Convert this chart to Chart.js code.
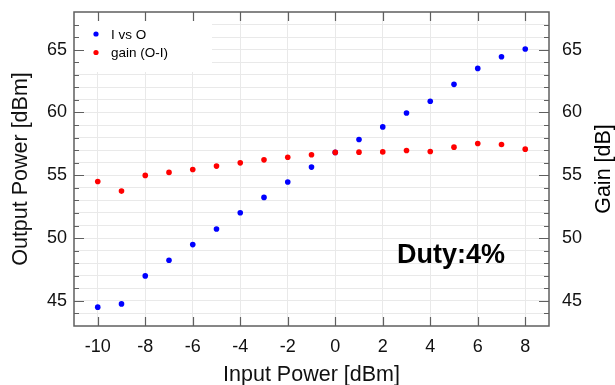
<!DOCTYPE html>
<html>
<head>
<meta charset="utf-8">
<script src="https://cdn.jsdelivr.net/npm/chart.js@4.4.1/dist/chart.umd.min.js"></script>
<style>
  html, body { margin: 0; padding: 0; background: #fff; }
  #wrap { width: 615px; height: 385px; }
</style>
</head>
<body>
<div id="wrap"><canvas id="myChart" width="615" height="385"></canvas></div>
<script>
// chart data
const inputPower = [-10, -9, -8, -7, -6, -5, -4, -3, -2, -1, 0, 1, 2, 3, 4, 5, 6, 7, 8];
const outputPower = [44.50, 44.76, 46.99, 48.23, 49.48, 50.72, 52.02, 53.24, 54.46, 55.65,
                     56.82, 57.85, 58.85, 59.96, 60.89, 62.24, 63.51, 64.44, 65.05];
const gain = [54.51, 53.74, 54.99, 55.23, 55.46, 55.73, 55.99, 56.23, 56.44, 56.63,
              56.82, 56.84, 56.86, 56.97, 56.89, 57.24, 57.53, 57.45, 57.08];
const xTickLabels = [-10, -8, -6, -4, -2, 0, 2, 4, 6, 8];
const yTickLabels = [45, 50, 55, 60, 65];
const seriesNames = ['I vs O', 'gain (O-I)'];
const seriesColors = ['#0000ff', '#ff0000'];

const X_MIN = -11, X_MAX = 9, Y_MIN = 43, Y_MAX = 68;
const FONT = "'Liberation Sans', Arial, sans-serif";
const FRAME = '#5f5f5f';
const GRID = '#e9e9e9';

function toPoints(ys) {
    return inputPower.map((x, i) => ({ x: x, y: ys[i] }));
}

// every integer between min and max gets a grid line on y
function yGridValues() {
    const v = [];
    for (let y = Y_MIN + 1; y < Y_MAX; y++) v.push(y);
    return v;
}

// keep the plot box where it is in the reference
function fitVertical(width) {
    return s => { s.width = width; s.paddingTop = 0; s.paddingBottom = 0; };
}

// frame, inward ticks, legend box, note text, right title
const decorations = {
    id: 'decorations',
    afterDatasetsDraw(chart) {
        const ctx = chart.ctx;
        const a = chart.chartArea;
        // legend inside the plot, upper left
        ctx.save();
        ctx.fillStyle = '#fff';
        ctx.fillRect(a.left + 1, a.top + 1, 137, 59);
        ctx.font = '13.5px ' + FONT;
        ctx.textBaseline = 'middle';
        ctx.textAlign = 'left';
        seriesNames.forEach((name, i) => {
            const y = a.top + 22 + i * 18.5;
            ctx.fillStyle = seriesColors[i];
            ctx.beginPath();
            ctx.arc(a.left + 22, y, 2.6, 0, Math.PI * 2);
            ctx.fill();
            ctx.fillStyle = '#000';
            ctx.fillText(name, a.left + 37, y + 1);
        });
        ctx.restore();
    },
    afterDraw(chart) {
        const ctx = chart.ctx;
        const a = chart.chartArea;
        const xs = chart.scales.x;
        const ys = chart.scales.y;
        ctx.save();
        ctx.strokeStyle = FRAME;
        ctx.lineWidth = 1.2;
        ctx.beginPath();
        xTickLabels.forEach(v => {
            const px = Math.round(xs.getPixelForValue(v)) + 0.5;
            ctx.moveTo(px, a.bottom); ctx.lineTo(px, a.bottom - 9);
            ctx.moveTo(px, a.top); ctx.lineTo(px, a.top + 9);
        });
        yGridValues().forEach(v => {
            const py = Math.round(ys.getPixelForValue(v)) + 0.5;
            const len = yTickLabels.includes(v) ? 10 : 5;
            ctx.moveTo(a.left, py); ctx.lineTo(a.left + len, py);
            ctx.moveTo(a.right, py); ctx.lineTo(a.right - len, py);
        });
        ctx.stroke();
        ctx.lineWidth = 1.5;
        ctx.strokeRect(a.left, a.top, a.right - a.left, a.bottom - a.top);

        // note inside the plot
        ctx.fillStyle = '#000';
        ctx.font = 'bold 27px ' + FONT;
        ctx.textAlign = 'left';
        ctx.textBaseline = 'alphabetic';
        ctx.fillText('Duty:4%', xs.getPixelForValue(2.6), ys.getPixelForValue(48.0));

        // right axis title, reading bottom to top
        ctx.font = '21.5px ' + FONT;
        ctx.textAlign = 'center';
        ctx.textBaseline = 'middle';
        ctx.translate(604, (a.top + a.bottom) / 2);
        ctx.rotate(-Math.PI / 2);
        ctx.fillText('Gain [dB]', 0, 0);
        ctx.restore();
    }
};

const data = {
    datasets: [
        {
            label: seriesNames[0],
            data: toPoints(outputPower),
            backgroundColor: seriesColors[0],
            borderWidth: 0,
            pointRadius: 2.8,
            order: 1
        },
        {
            label: seriesNames[1],
            data: toPoints(gain),
            backgroundColor: seriesColors[1],
            borderWidth: 0,
            pointRadius: 2.8,
            order: 0
        }
    ]
};

const tickFont = { family: FONT, size: 18 };
const titleFont = { family: FONT, size: 21.5, lineHeight: 1 };

const options = {
    responsive: false,
    animation: false,
    layout: { padding: { top: 12, left: 0, right: 0, bottom: 0 } },
    plugins: {
        legend: { display: false },
        tooltip: { enabled: false }
    },
    scales: {
        x: {
            type: 'linear',
            min: X_MIN,
            max: X_MAX,
            afterBuildTicks: s => { s.ticks = xTickLabels.map(v => ({ value: v })); },
            afterFit: s => { s.height = 59; s.paddingLeft = 0; s.paddingRight = 0; },
            grid: { color: GRID, drawTicks: false },
            border: { display: false },
            ticks: { font: tickFont, color: '#111', padding: 10, maxRotation: 0, autoSkip: false },
            title: { display: true, text: 'Input Power [dBm]', font: titleFont, color: '#111',
                     padding: { top: 0, bottom: -1 } }
        },
        y: {
            type: 'linear',
            position: 'left',
            min: Y_MIN,
            max: Y_MAX,
            afterBuildTicks: s => { s.ticks = yGridValues().map(v => ({ value: v })); },
            afterFit: fitVertical(74),
            grid: { color: GRID, drawTicks: false },
            border: { display: false },
            ticks: {
                font: tickFont, color: '#111', padding: 7, autoSkip: false,
                callback: v => (yTickLabels.includes(v) ? String(v) : '')
            },
            title: { display: true, text: 'Output Power [dBm]', font: titleFont, color: '#111',
                     padding: { top: 10, bottom: 0 } }
        },
        y2: {
            type: 'linear',
            position: 'right',
            min: Y_MIN,
            max: Y_MAX,
            afterBuildTicks: s => { s.ticks = yTickLabels.map(v => ({ value: v })); },
            afterFit: fitVertical(66),
            grid: { drawOnChartArea: false, drawTicks: false },
            border: { display: false },
            ticks: { font: tickFont, color: '#111', padding: 13, autoSkip: false }
        }
    }
};

function initializeChart(ctx) {
    return new Chart(ctx, {
        type: 'scatter',
        data: data,
        options: options,
        plugins: [decorations]
    });
}

const myChart = initializeChart(document.getElementById('myChart').getContext('2d'));
</script>
</body>
</html>
